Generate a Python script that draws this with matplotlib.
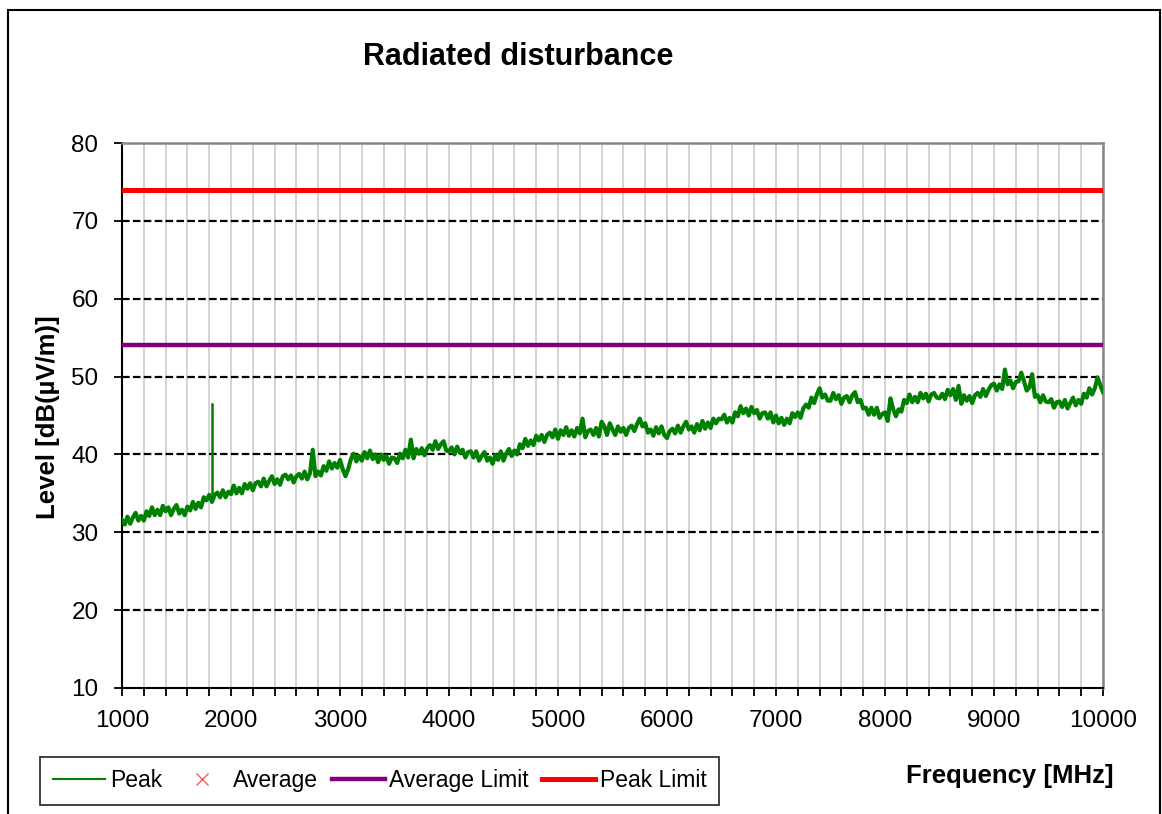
import matplotlib.pyplot as plt
import matplotlib.patches as patches
import numpy as np

plt.rcParams['font.family'] = ['Liberation Sans', 'DejaVu Sans']

# Peak trace, every 25 MHz from 1000 to 10000 MHz
peak_freq = np.arange(1000, 10001, 25)
peak_level = [
    31.6, 31.0, 32.0, 31.1, 31.9, 32.5, 31.5, 32.1, 31.5, 32.7, 32.1, 33.2, 32.2, 32.9, 32.2, 33.4, 32.7, 33.2, 32.2, 33.0,
    33.5, 32.4, 32.9, 32.2, 33.3, 32.8, 33.9, 33.0, 33.8, 33.2, 34.5, 34.1, 34.8, 33.9, 34.8, 35.1, 34.5, 35.4, 34.5, 35.2,
    34.9, 36.0, 35.0, 35.7, 35.0, 36.2, 35.6, 36.3, 35.4, 36.3, 36.5, 35.9, 36.9, 35.9, 36.6, 37.2, 36.2, 36.8, 36.1, 37.2,
    37.4, 36.8, 37.3, 36.4, 37.2, 37.5, 36.9, 37.8, 36.8, 37.6, 40.6, 37.2, 37.8, 37.3, 38.5, 37.9, 39.1, 38.2, 38.9, 38.3,
    39.3, 38.1, 37.2, 38.1, 39.4, 40.1, 39.1, 39.8, 39.2, 40.3, 39.5, 40.5, 39.4, 40.0, 39.0, 40.0, 39.3, 39.8, 38.8, 39.6,
    39.5, 38.9, 40.1, 39.5, 40.6, 39.6, 41.9, 39.5, 40.7, 40.1, 40.8, 39.9, 40.8, 41.2, 40.6, 41.7, 40.7, 41.3, 41.7, 40.5,
    40.4, 40.9, 40.0, 41.0, 40.2, 40.6, 39.6, 40.3, 40.4, 39.6, 40.4, 39.2, 39.8, 40.3, 39.2, 39.6, 38.8, 39.9, 39.3, 40.4,
    39.2, 40.1, 40.7, 39.8, 40.5, 40.0, 41.3, 40.8, 42.0, 41.1, 41.8, 41.2, 42.4, 41.8, 42.5, 41.6, 42.5, 42.8, 42.2, 43.2,
    42.0, 43.1, 42.5, 43.5, 42.4, 43.1, 42.3, 43.4, 42.7, 44.6, 42.2, 43.0, 43.2, 42.5, 43.4, 42.3, 44.2, 43.6, 42.5, 44.0,
    43.2, 42.5, 43.6, 42.9, 43.4, 42.5, 43.4, 43.7, 43.0, 43.9, 44.6, 43.6, 44.0, 42.8, 43.2, 42.4, 43.5, 42.7, 43.6, 42.5,
    42.1, 43.0, 43.3, 42.7, 43.7, 42.8, 43.6, 44.2, 43.2, 43.6, 42.8, 43.9, 43.1, 44.3, 43.3, 44.1, 43.4, 44.6, 44.0, 44.6,
    44.5, 45.1, 44.1, 44.7, 44.1, 45.4, 44.9, 46.2, 45.3, 45.9, 45.0, 46.1, 45.3, 45.7, 44.6, 45.3, 45.4, 44.6, 45.4, 44.1,
    45.0, 44.0, 44.7, 43.8, 44.6, 44.0, 45.3, 44.8, 45.4, 44.7, 45.9, 46.4, 46.0, 47.3, 46.6, 47.7, 48.5, 47.3, 47.7, 46.9,
    46.9, 47.9, 47.1, 47.6, 46.5, 47.3, 47.5, 46.7, 47.6, 48.0, 46.7, 47.0, 45.9, 46.0, 45.1, 46.0, 45.1, 46.0, 44.7, 45.2,
    45.4, 44.3, 47.2, 45.8, 44.9, 45.8, 45.5, 47.0, 46.6, 47.7, 46.7, 47.4, 46.7, 47.9, 47.2, 47.8, 46.8, 47.7, 47.9, 47.3,
    47.2, 47.8, 47.1, 48.3, 47.6, 48.4, 47.0, 48.8, 46.5, 47.6, 46.9, 47.5, 46.6, 47.6, 47.9, 47.4, 48.4, 47.5, 48.3, 48.9,
    49.1, 48.2, 49.0, 48.4, 50.9, 49.0, 49.5, 48.5, 49.3, 49.4, 50.5, 49.4, 48.2, 48.6, 50.3, 47.4, 47.6, 46.7, 47.6, 46.8,
    46.7, 47.1, 46.0, 46.7, 46.8, 46.1, 47.0, 45.9, 46.6, 47.3, 46.3, 47.0, 46.5, 47.8, 47.3, 48.5, 47.7, 48.5, 49.9, 48.9,
    48.0,
]

# narrow spike near 1830 MHz
spike_freq = [1830, 1830]
spike_level = [34.8, 46.5]

average_freq = []
average_level = []

limit_freq = [1000, 10000]
average_limit = [54, 54]
peak_limit = [74, 74]

fig = plt.figure(figsize=(11.62, 8.14), dpi=100)
ax = fig.add_axes([122 / 1162, 1 - 688 / 814, 981 / 1162, 545 / 814])

# grid
for f in range(1000, 10001, 200):
    ax.axvline(f, color='#c8c8c8', lw=1.1, zorder=1)
for y in range(20, 80, 10):
    ax.axhline(y, color='black', lw=1.6, ls=(0, (3.4, 1.5)), zorder=1)

ax.plot(peak_freq, peak_level, color='#008000', lw=3.0, label='Peak', zorder=3)
ax.plot(spike_freq, spike_level, color='#008000', lw=1.8, zorder=3)
ax.plot(average_freq, average_level, ls='none', marker='x', color='#ff5a5a',
        markersize=9, markeredgewidth=1.0, label='Average')
ax.plot(limit_freq, average_limit, color='#800080', lw=3.2, label='Average Limit', zorder=4)
ax.plot(limit_freq, peak_limit, color='#ff0000', lw=3.6, label='Peak Limit', zorder=4)

ax.set_xlim(1000, 10000)
ax.set_ylim(10, 80)
ax.set_xticks(range(1000, 10001, 1000))
ax.set_xticks(range(1000, 10001, 200), minor=True)
ax.set_yticks(range(10, 81, 10))
ax.tick_params(axis='both', which='both', direction='out', length=6, width=1.3,
               labelsize=17.5, color='black')
ax.tick_params(axis='y', pad=11)
ax.tick_params(axis='x', pad=10)

for side in ['left', 'bottom']:
    ax.spines[side].set_color('black')
    ax.spines[side].set_linewidth(1.5)
for side in ['top', 'right']:
    ax.spines[side].set_color('#888888')
    ax.spines[side].set_linewidth(1.8)

fig.text(518 / 1162, 1 - 57 / 814, 'Radiated disturbance', fontsize=22,
         fontweight='bold', ha='center', va='center')
fig.text(48 / 1162, 1 - 417 / 814, 'Level [dB(µV/m)]', fontsize=18.5,
         fontweight='bold', rotation=90, ha='center', va='center')
fig.text(1010 / 1162, 1 - 776 / 814, 'Frequency [MHz]', fontsize=18.5,
         fontweight='bold', ha='center', va='center')

leg = fig.legend(loc='lower left', bbox_to_anchor=(40 / 1162, 1 - 805 / 814),
                 ncol=4, fontsize=16.5, frameon=True, fancybox=False,
                 handlelength=2.3, handletextpad=0.2, columnspacing=0.6,
                 borderpad=0.55, borderaxespad=0)
leg.get_frame().set_edgecolor('black')
leg.get_frame().set_linewidth(1.3)
leg.get_lines()[0].set_linewidth(1.5)

# outer chart frame
fig.add_artist(patches.Rectangle((8 / 1162, -0.05), 1152 / 1162, 1 - 10 / 814 + 0.05,
                                 transform=fig.transFigure, fill=False,
                                 edgecolor='black', lw=1.5))

fig.savefig('out.png', dpi=100)
